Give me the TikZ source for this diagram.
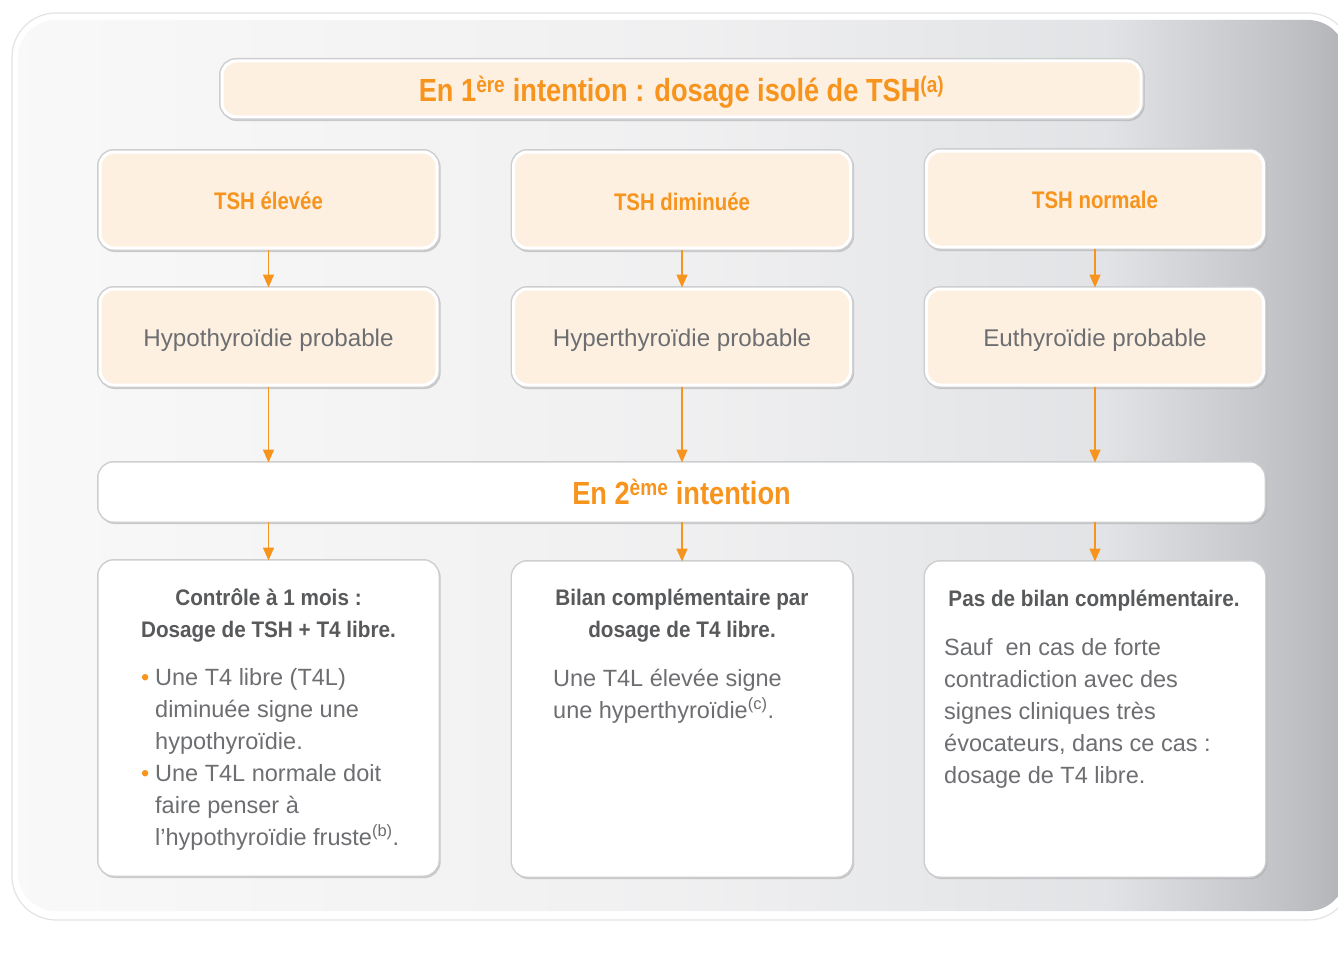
\documentclass[tikz,border=0pt]{standalone}
\usepackage{fontspec}
\setmainfont{Liberation Sans}
\newfontfamily\condf[FakeStretch=0.85]{Liberation Sans}
\newfontfamily\condw[FakeStretch=0.92]{Liberation Sans}
\usetikzlibrary{arrows.meta}
\definecolor{orng}{HTML}{F7941E}
\definecolor{peach}{HTML}{FDF0E1}
\definecolor{headgray}{HTML}{58595B}
\definecolor{bodygray}{HTML}{6D6E71}
\definecolor{rimgray}{HTML}{CDCED0}
\pgfdeclarehorizontalshading{panelshade}{100bp}{rgb(0bp)=(0.975,0.975,0.975); rgb(25bp)=(0.975,0.975,0.975); rgb(50bp)=(0.94,0.94,0.945); rgb(66bp)=(0.885,0.89,0.9); rgb(73bp)=(0.75,0.755,0.77); rgb(75bp)=(0.70,0.705,0.72); rgb(100bp)=(0.70,0.705,0.72)}
\tikzset{
  boxbase/.style={rounded corners=14pt, inner sep=0pt, line width=3pt, draw=white,
    preaction={draw=gray!70, line width=5pt, opacity=0.55, transform canvas={shift={(1.2pt,-1.6pt)}}},
    preaction={draw=rimgray, line width=6pt}},
  peachbox/.style={boxbase, fill=peach},
  whitebox/.style={boxbase, fill=white},
  colbox/.style={minimum width=337pt},
  arr/.style={draw=orng, line width=1.5pt, -{Triangle[width=11pt,length=13pt]}},
  bighead/.style={text=orng, font={\condf\bfseries\fontsize{32}{38}\selectfont}},
  colhead/.style={text=orng, font={\condf\bfseries\fontsize{24}{28}\selectfont}},
  midtext/.style={text=bodygray, font={\fontsize{24.2}{28}\selectfont}},
  boxhead/.style={text=headgray, align=center, inner sep=0pt, font={\condw\bfseries\fontsize{22.5}{32}\selectfont}},
  boxbody/.style={text=bodygray, align=left, inner sep=0pt, anchor=west, font={\fontsize{23.5}{32}\selectfont}},
}
\newcommand{\bul}{\makebox[14pt][l]{\textcolor{orng}{•}}}
\newcommand{\ind}{\hspace*{14pt}}
\newcommand{\low}[2]{\raisebox{-#1}[\height][\depth]{#2}}
\begin{document}
\begin{tikzpicture}[x=1pt,y=-1pt]
\useasboundingbox (0,0) rectangle (1338,963);
% background panel
\draw[draw=gray!22, line width=1.2pt, fill=white, rounded corners=44pt] (12,13) rectangle (1352,920);
\shade[shading=panelshade, rounded corners=38pt] (18,20) rectangle (1346,911);

% title
\node[peachbox, minimum width=919pt, minimum height=56pt, bighead] (title) at (681.5,89)
  {\low{3pt}{En 1\textsuperscript{ère} intention : dosage isolé de TSH\textsuperscript{(a)}}};

% row 1
\node[peachbox, colbox, minimum height=96pt, colhead] (r1a) at (268.5,200) {\low{1pt}{TSH élevée}};
\node[peachbox, colbox, minimum height=96pt, colhead] (r1b) at (682,200) {\low{1.5pt}{TSH diminuée}};
\node[peachbox, colbox, minimum height=96pt, colhead] (r1c) at (1095,199) {\low{0.5pt}{TSH normale}};

% row 2
\node[peachbox, colbox, minimum height=96pt, midtext] (r2a) at (268.5,337) {\low{3pt}{Hypothyroïdie probable}};
\node[peachbox, colbox, minimum height=96pt, midtext] (r2b) at (682,337) {\low{3pt}{Hyperthyroïdie probable}};
\node[peachbox, colbox, minimum height=96pt, midtext] (r2c) at (1095,337) {\low{3pt}{Euthyroïdie probable}};

% second intention
\node[whitebox, minimum width=1163pt, minimum height=56pt, bighead] (second) at (681.5,492)
  {En 2\textsuperscript{ème} intention};

% bottom boxes
\node[whitebox, colbox, minimum height=312pt] (r3a) at (268.5,718) {};
\node[whitebox, colbox, minimum height=312pt] (r3b) at (682,719) {};
\node[whitebox, colbox, minimum height=312pt] (r3c) at (1095,719) {};

% arrows
\draw[arr] (r1a.south) -- (r2a.north);
\draw[arr] (r1b.south) -- (r2b.north);
\draw[arr] (r1c.south) -- (r2c.north);
\draw[arr] (r2a.south) -- (r2a.south |- second.north);
\draw[arr] (r2b.south) -- (r2b.south |- second.north);
\draw[arr] (r2c.south) -- (r2c.south |- second.north);
\draw[arr] (r3a.north |- second.south) -- (r3a.north);
\draw[arr] (r3b.north |- second.south) -- (r3b.north);
\draw[arr] (r3c.north |- second.south) -- (r3c.north);

% bottom texts
\node[boxhead] (ha) at (268.5,615) {Contrôle à 1 mois :\\Dosage de TSH + T4 libre.};
\node[boxbody] (ba) at (141,759) {\bul Une T4 libre (T4L)\\ \ind diminuée signe une\\ \ind hypothyroïdie.\\ \bul Une T4L normale doit\\ \ind faire penser à\\ \ind l’hypothyroïdie fruste\textsuperscript{(b)}.};

\node[boxhead] (hb) at (682,616) {Bilan complémentaire par\\dosage de T4 libre.};
\node[boxbody] (bb) at (553,696) {Une T4L élevée signe\\une hyperthyroïdie\textsuperscript{(c)}.};

\node[boxhead] (hc) at (1094,601) {Pas de bilan complémentaire.};
\node[boxbody] (bc) at (944,713.5) {Sauf~ en cas de forte\\contradiction avec des\\signes cliniques très\\évocateurs, dans ce cas :\\dosage de T4 libre.};
\end{tikzpicture}
\end{document}
